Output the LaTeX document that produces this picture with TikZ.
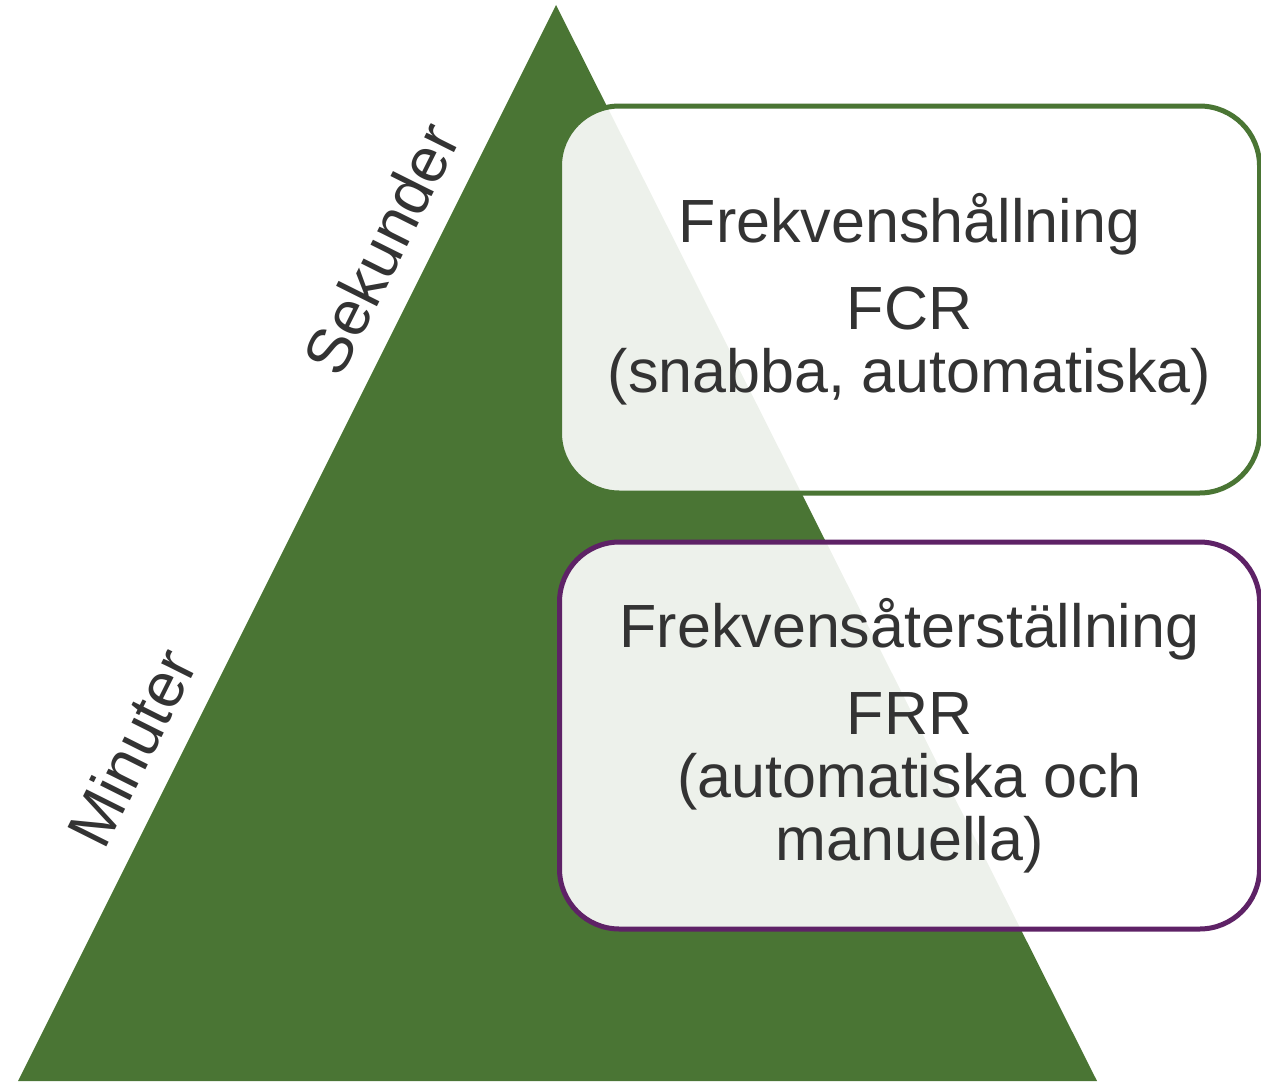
\documentclass[tikz,border=0pt]{standalone}
\usepackage{fontspec}
\setmainfont{Liberation Sans}
\usetikzlibrary{positioning,calc}
\definecolor{PyramidGreen}{HTML}{4A7534}
\definecolor{BoxPurple}{HTML}{5E2266}
\definecolor{TextGrey}{HTML}{333333}

\begin{document}
\begin{tikzpicture}[
  x=0.5pt, y=-0.5pt,
  node distance=22pt,
  box/.style={draw, line width=2.5pt, rounded corners=30pt, minimum width=350pt, minimum height=193.5pt, align=center, fill=white, fill opacity=0.9, text opacity=1, text=TextGrey, font=\fontsize{30.5}{31.5}\selectfont},
  side/.style={rotate=63.43, anchor=south, inner sep=0pt, inner ysep=12pt, text=TextGrey, font=\fontsize{31.5}{36}\selectfont}
]
  \useasboundingbox (0,0) rectangle (1261,1081);
  \coordinate (apex) at (556,5);
  \coordinate (baseL) at (18,1081);
  \coordinate (baseR) at (1097,1081);
  \fill[PyramidGreen] (apex) -- (baseR) -- (baseL) -- cycle;

  \node[side] (sek) at ($(apex)!0.246!(baseL)$) {Sekunder};
  \node[side] (min) at ($(apex)!0.71!(baseL)$) {Minuter};

  \node[box, draw=PyramidGreen] (fcr) at (909.5,299.5) {Frekvenshållning\\[12pt]FCR\\(snabba, automatiska)};
  \node[box, draw=BoxPurple, below=of fcr] (frr) {Frekvensåterställning\\[12pt]FRR\\(automatiska och\\manuella)};
\end{tikzpicture}
\end{document}
